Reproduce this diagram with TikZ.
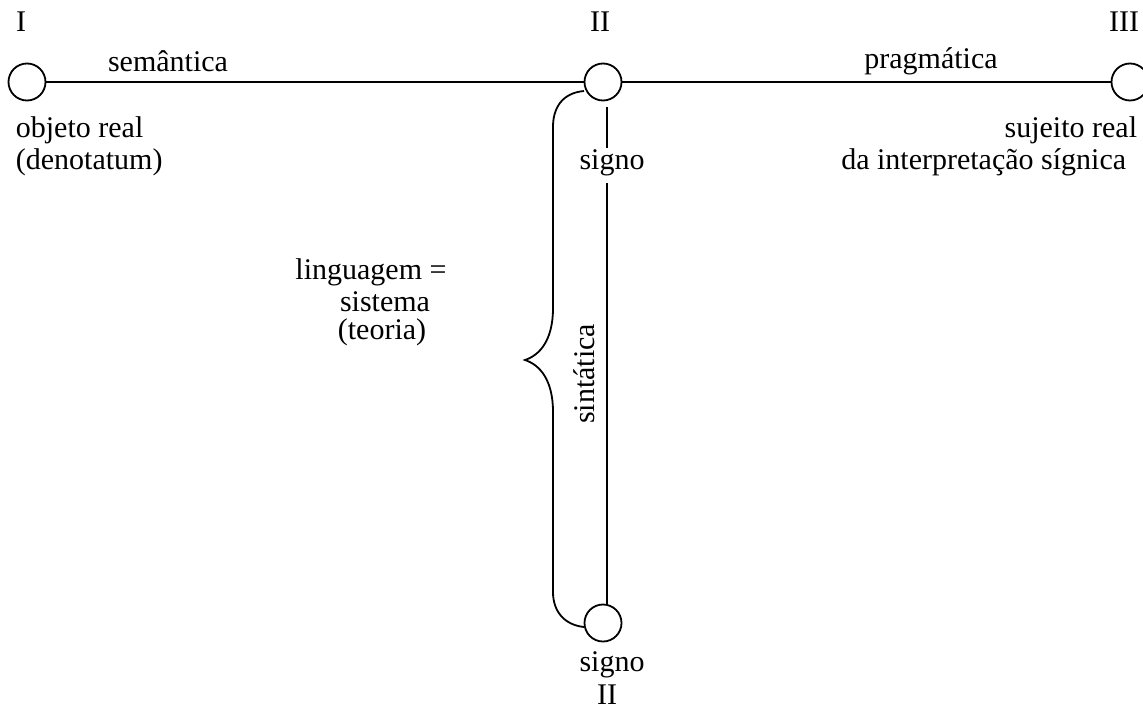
\documentclass[tikz,border=0pt]{standalone}
\usepackage{fontspec}
\setmainfont{Liberation Serif}
\begin{document}
\begin{tikzpicture}[x=1pt,y=-1pt,
  line width=1.8pt,
  lbl/.style={inner sep=0pt,font=\fontsize{30}{36}\selectfont},
  ring/.style={circle,draw,minimum size=37pt,inner sep=0pt}]
\useasboundingbox (0,0) rectangle (1143,715);
% circles
\node[ring] (L) at (27,82) {};
\node[ring] (M) at (603,82) {};
\node[ring] (R) at (1130,82) {};
\node[ring] (B) at (603,623) {};
% labels
\node[lbl] (tI) at (21,22) {I};
\node[lbl] (tII) at (600,22) {II};
\node[lbl] (tIII) at (1124,22) {III};
\node[lbl] (sem) at (168,61) {semântica};
\node[lbl] (prag) at (931,61) {pragmática};
\node[lbl,anchor=west] (obj) at (15,130) {objeto real};
\node[lbl,anchor=west] (den) at (15,162) {(denotatum)};
\node[lbl,anchor=east] (suj) at (1138,130) {sujeito real};
\node[lbl,anchor=east] (dai) at (1127,162) {da interpretação sígnica};
\node[lbl] (sig1) at (612,163) {signo};
\node[lbl] (sig2) at (612,665) {signo};
\node[lbl] (tIIb) at (607,695) {II};
\node[lbl] (ling) at (371,272) {linguagem =};
\node[lbl] (sist) at (385,302) {sistema};
\node[lbl] (teo) at (382,332) {(teoria)};
\node[lbl,rotate=90] (sint) at (584,374) {sintática};
% connectors
\draw (L) -- (M);
\draw (M) -- (R);
\coordinate (v1) at (607,107);
\coordinate (v2) at (607,148);
\coordinate (v3) at (607,183);
\coordinate (v4) at (607,605);
\draw (v1) -- (v2);
\draw (v3) -- (v4);
% brace
\coordinate (b1) at (584,91);
\coordinate (b2) at (584,627);
\draw (b1) .. controls (562,93) and (553,108) .. (553,127)
  -- (553,308) .. controls (553,340) and (540,355) .. (525,360)
  .. controls (540,365) and (553,380) .. (553,412)
  -- (553,592) .. controls (553,612) and (565,625) .. (b2);
\end{tikzpicture}
\end{document}
